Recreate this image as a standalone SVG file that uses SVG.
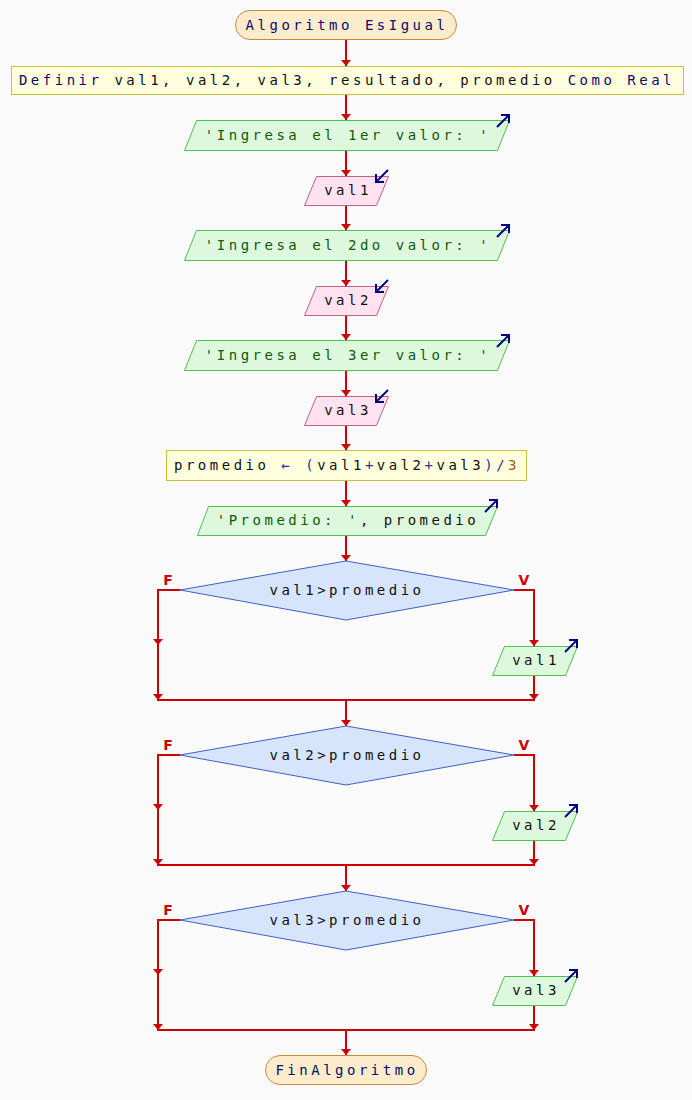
<svg xmlns="http://www.w3.org/2000/svg" width="692" height="1100" viewBox="0 0 692 1100">
<defs>
<marker id="ah" viewBox="0 0 6 10" refX="6" refY="5" markerWidth="6" markerHeight="10" markerUnits="userSpaceOnUse" orient="auto">
<path d="M0,0 L6,5 L0,10 z" fill="#cc0000"/>
</marker>
</defs>
<style>
text{font-family:"DejaVu Sans Mono","Liberation Mono",monospace;font-size:14px;letter-spacing:3.5px;text-anchor:middle}
.term{fill:#fdeccc;stroke:#c88a3a;stroke-width:1}
.proc{fill:#ffffdd;stroke:#c8c040;stroke-width:1}
.out{fill:#ddf8dd;stroke:#50c050;stroke-width:1}
.inp{fill:#ffe2f0;stroke:#c06088;stroke-width:1}
.dec{fill:#d6e4fc;stroke:#4060c0;stroke-width:1}
.kw{fill:#0a0a70}
.var{fill:#111111}
.str{fill:#0e5a0e}
.op{fill:#303090}
.num{fill:#a05a20}
.lbl{fill:#cc0000;font-family:"DejaVu Sans","Liberation Sans",sans-serif;font-weight:bold;font-size:14px;letter-spacing:0}
.ln{stroke:#cc0000;stroke-width:2;fill:none}
.arr{stroke:#cc0000;stroke-width:2;fill:none;marker-end:url(#ah)}
.icon{stroke:#000080;stroke-width:2;fill:none}
</style>
<rect width="692" height="1100" fill="#fafafa"/>

<g id="connectors">
<line class="arr" x1="346" y1="40" x2="346" y2="66"/>
<line class="arr" x1="346" y1="95" x2="346" y2="120"/>
<line class="arr" x1="346" y1="150" x2="346" y2="176"/>
<line class="arr" x1="346" y1="206" x2="346" y2="230"/>
<line class="arr" x1="346" y1="260" x2="346" y2="286"/>
<line class="arr" x1="346" y1="316" x2="346" y2="340"/>
<line class="arr" x1="346" y1="370" x2="346" y2="396"/>
<line class="arr" x1="346" y1="426" x2="346" y2="450"/>
<line class="arr" x1="346" y1="481" x2="346" y2="506"/>
<line class="arr" x1="346" y1="536" x2="346" y2="561"/>
<polyline class="ln" points="180,590 158,590 158,600"/>
<line class="arr" x1="158" y1="595" x2="158" y2="645"/>
<line class="arr" x1="158" y1="645" x2="158" y2="700"/>
<polyline class="ln" points="514,590 534,590 534,600"/>
<line class="arr" x1="534" y1="595" x2="534" y2="646"/>
<line class="arr" x1="534" y1="676" x2="534" y2="700"/>
<line class="ln" x1="157" y1="700" x2="535" y2="700"/>
<line class="arr" x1="346" y1="700" x2="346" y2="726"/>
<polyline class="ln" points="180,755 158,755 158,765"/>
<line class="arr" x1="158" y1="760" x2="158" y2="810"/>
<line class="arr" x1="158" y1="810" x2="158" y2="865"/>
<polyline class="ln" points="514,755 534,755 534,765"/>
<line class="arr" x1="534" y1="760" x2="534" y2="811"/>
<line class="arr" x1="534" y1="841" x2="534" y2="865"/>
<line class="ln" x1="157" y1="865" x2="535" y2="865"/>
<line class="arr" x1="346" y1="865" x2="346" y2="891"/>
<polyline class="ln" points="180,920 158,920 158,930"/>
<line class="arr" x1="158" y1="925" x2="158" y2="975"/>
<line class="arr" x1="158" y1="975" x2="158" y2="1030"/>
<polyline class="ln" points="514,920 534,920 534,930"/>
<line class="arr" x1="534" y1="925" x2="534" y2="976"/>
<line class="arr" x1="534" y1="1006" x2="534" y2="1030"/>
<line class="ln" x1="157" y1="1030" x2="535" y2="1030"/>
<line class="arr" x1="346" y1="1030" x2="346" y2="1055"/>
</g>

<g id="start">
<rect class="term" x="235.5" y="10.5" width="221" height="29" rx="14.5"/>
<text class="kw" x="347" y="30">Algoritmo EsIgual</text>
</g>

<g id="define">
<rect class="proc" x="11.5" y="66.5" width="672" height="28"/>
<text x="347" y="85"><tspan class="kw">Definir</tspan><tspan class="var"> val1, val2, val3, resultado, promedio </tspan><tspan class="kw">Como Real</tspan></text>
</g>

<g id="out1">
<polygon class="out" points="196.5,120.5 509.5,120.5 497.5,150.5 184.5,150.5"/>
<text class="str" x="348" y="140">'Ingresa el 1er valor: '</text>
<line class="icon" x1="497" y1="127" x2="508" y2="116"/>
<path class="icon" d="M501,115 L509,115 L509,123"/>
</g>

<g id="in1">
<polygon class="inp" points="316.5,176.5 388.5,176.5 376.5,205.5 304.5,205.5"/>
<text class="var" x="348" y="195">val1</text>
<line class="icon" x1="388" y1="170" x2="377" y2="181"/>
<path class="icon" d="M376,174 L376,182 L384,182"/>
</g>

<g id="out2">
<polygon class="out" points="196.5,230.5 509.5,230.5 497.5,260.5 184.5,260.5"/>
<text class="str" x="348" y="250">'Ingresa el 2do valor: '</text>
<line class="icon" x1="497" y1="237" x2="508" y2="226"/>
<path class="icon" d="M501,225 L509,225 L509,233"/>
</g>

<g id="in2">
<polygon class="inp" points="316.5,286.5 388.5,286.5 376.5,315.5 304.5,315.5"/>
<text class="var" x="348" y="305">val2</text>
<line class="icon" x1="388" y1="280" x2="377" y2="291"/>
<path class="icon" d="M376,284 L376,292 L384,292"/>
</g>

<g id="out3">
<polygon class="out" points="196.5,340.5 509.5,340.5 497.5,370.5 184.5,370.5"/>
<text class="str" x="348" y="360">'Ingresa el 3er valor: '</text>
<line class="icon" x1="497" y1="347" x2="508" y2="336"/>
<path class="icon" d="M501,335 L509,335 L509,343"/>
</g>

<g id="in3">
<polygon class="inp" points="316.5,396.5 388.5,396.5 376.5,425.5 304.5,425.5"/>
<text class="var" x="348" y="415">val3</text>
<line class="icon" x1="388" y1="390" x2="377" y2="401"/>
<path class="icon" d="M376,394 L376,402 L384,402"/>
</g>

<g id="assign">
<rect class="proc" x="166.5" y="450.5" width="360" height="30"/>
<text x="347" y="470"><tspan class="var">promedio </tspan><tspan class="op">←</tspan><tspan class="var"> </tspan><tspan class="op">(</tspan><tspan class="var">val1</tspan><tspan class="op">+</tspan><tspan class="var">val2</tspan><tspan class="op">+</tspan><tspan class="var">val3</tspan><tspan class="op">)/</tspan><tspan class="num">3</tspan></text>
</g>

<g id="outprom">
<polygon class="out" points="208.5,506.5 497.5,506.5 485.5,535.5 197.5,535.5"/>
<text x="348" y="525"><tspan class="str">'Promedio: '</tspan><tspan class="var">, promedio</tspan></text>
<line class="icon" x1="485" y1="512" x2="496" y2="501"/>
<path class="icon" d="M489,500 L497,500 L497,508"/>
</g>

<g id="dec1">
<polygon class="dec" points="346,561 514,590 346,620 180,590"/>
<text class="var" x="347" y="595">val1&gt;promedio</text>
<text class="lbl" x="168" y="585">F</text>
<text class="lbl" x="524" y="585">V</text>
</g>

<g id="outv1">
<polygon class="out" points="504.5,646.5 577.5,646.5 565.5,675.5 492.5,675.5"/>
<text class="var" x="536" y="665">val1</text>
<line class="icon" x1="565" y1="652" x2="576" y2="641"/>
<path class="icon" d="M569,640 L577,640 L577,648"/>
</g>

<g id="dec2">
<polygon class="dec" points="346,726 514,755 346,785 180,755"/>
<text class="var" x="347" y="760">val2&gt;promedio</text>
<text class="lbl" x="168" y="750">F</text>
<text class="lbl" x="524" y="750">V</text>
</g>

<g id="outv2">
<polygon class="out" points="504.5,811.5 577.5,811.5 565.5,840.5 492.5,840.5"/>
<text class="var" x="536" y="830">val2</text>
<line class="icon" x1="565" y1="817" x2="576" y2="806"/>
<path class="icon" d="M569,805 L577,805 L577,813"/>
</g>

<g id="dec3">
<polygon class="dec" points="346,891 514,920 346,950 180,920"/>
<text class="var" x="347" y="925">val3&gt;promedio</text>
<text class="lbl" x="168" y="915">F</text>
<text class="lbl" x="524" y="915">V</text>
</g>

<g id="outv3">
<polygon class="out" points="504.5,976.5 577.5,976.5 565.5,1005.5 492.5,1005.5"/>
<text class="var" x="536" y="995">val3</text>
<line class="icon" x1="565" y1="982" x2="576" y2="971"/>
<path class="icon" d="M569,970 L577,970 L577,978"/>
</g>

<g id="end">
<rect class="term" x="265.5" y="1055.5" width="161" height="29" rx="14.5"/>
<text class="kw" x="347" y="1075">FinAlgoritmo</text>
</g>
</svg>
